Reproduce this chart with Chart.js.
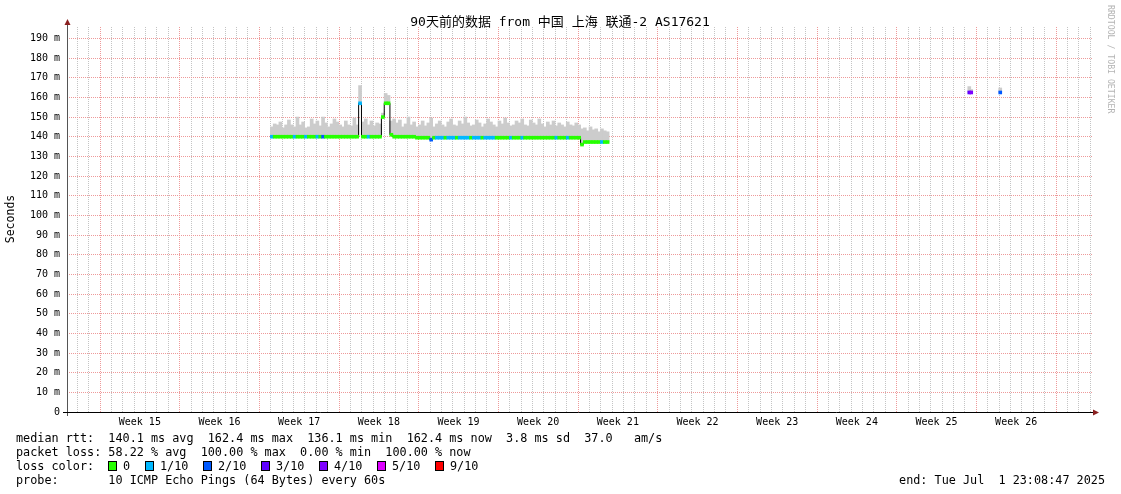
<!DOCTYPE html>
<html>
<head>
<meta charset="utf-8">
<script src="https://cdn.jsdelivr.net/npm/chart.js@4"></script>
<style>
  html, body { margin: 0; padding: 0; background: #fff; }
  #smoke-chart { display: block; }
</style>
</head>
<body>
<canvas id="smoke-chart" width="1121" height="494"></canvas>
<script>
// time axis is in days from the left edge of the plot, one sample every 6 hours
const startDay = 18.0;
const stepDay = 0.25;

const medianRtt = [
  140, 140, 140, 140, 140, 140, 140, 140, 140, 140,
  140, 140, 140, 140, 140, 140, 140, 140, 140, 140,
  140, 140, 140, 140, 140, 140, 140, 140, 140, 140,
  140, 157, 140, 140, 140, 140, 140, 140, 140, 150,
  157, 157, 141, 140, 140, 140, 140, 140, 140, 140,
  140, 139.5, 139.5, 139.5, 139.5, 139.5, 138.5, 139.5, 139.5, 139.5,
  139.5, 139.5, 139.5, 139.5, 139.5, 139.5, 139.5, 139.5, 139.5, 139.5,
  139.5, 139.5, 139.5, 139.5, 139.5, 139.5, 139.5, 139.5, 139.5, 139.5,
  139.5, 139.5, 139.5, 139.5, 139.5, 139.5, 139.5, 139.5, 139.5, 139.5,
  139.5, 139.5, 139.5, 139.5, 139.5, 139.5, 139.5, 139.5, 139.5, 139.5,
  139.5, 139.5, 139.5, 139.5, 139.5, 139.5, 139.5, 139.5, 139.5, 136,
  137.3, 137.3, 137.3, 137.3, 137.3, 137.3, 137.3, 137.3, 137.3
];

const smokeMax = [
  145, 146.5, 146, 147.5, 144.5, 146, 148.5, 146, 145, 150,
  146, 147.5, 144.5, 145, 149, 146.5, 148, 145.5, 150, 147,
  145, 146.5, 149, 147.5, 146, 145, 148, 146, 145.5, 149.5,
  146, 166, 147.5, 149, 146, 148, 145.5, 147, 146.5, 152,
  162, 161, 148, 149, 147, 148.5, 145, 146.5, 150, 146,
  147.5, 145, 146, 148, 145.5, 147, 149.5, 145, 146.5, 148,
  146, 145, 147.5, 149, 146, 145.5, 148, 146.5, 150, 147,
  145.5, 146, 148.5, 147, 145, 146.5, 149, 147.5, 146, 145,
  148, 146.5, 149.5, 147, 145.5, 146, 148, 147, 149, 146,
  145.5, 148.5, 147, 146, 149, 146.5, 145, 147.5, 146, 148,
  145.5, 147, 146, 145, 147.5, 146, 145.5, 147, 146, 144,
  144.5, 143, 145, 143.5, 144, 142.5, 144, 143, 142.5
];

// lost pings out of 10
const lossTenths = [
  1, 0, 0, 0, 0, 0, 0, 0, 1, 0,
  0, 0, 1, 0, 0, 0, 1, 0, 2, 0,
  0, 0, 0, 0, 0, 0, 0, 0, 0, 0,
  0, 1, 0, 0, 1, 0, 0, 0, 0, 0,
  0, 0, 0, 0, 0, 0, 0, 0, 0, 0,
  0, 0, 0, 0, 0, 0, 2, 0, 1, 1,
  1, 0, 1, 1, 1, 0, 1, 1, 1, 1,
  0, 1, 1, 1, 0, 1, 1, 1, 1, 0,
  0, 0, 0, 0, 1, 0, 0, 0, 1, 0,
  0, 0, 0, 0, 0, 0, 0, 0, 0, 0,
  1, 0, 0, 0, 1, 0, 0, 0, 0, 0,
  0, 0, 0, 0, 0, 0, 1, 0, 0
];

// the lone samples near the right edge
const spotDays = [79.28, 79.45, 82.0];
const spotMedian = [162.5, 162.5, 162.5];
const spotMax = [165.5, 164, 164.8];
const spotLoss = [3, 4, 2];

const weekLabels = ['Week 15', 'Week 16', 'Week 17', 'Week 18', 'Week 19', 'Week 20',
  'Week 21', 'Week 22', 'Week 23', 'Week 24', 'Week 25', 'Week 26'];
const firstWeekStart = 2.9;

const lossKeys = ['0', '1/10', '2/10', '3/10', '4/10', '5/10', '9/10'];
const lossKeyColors = ['#26ff00', '#00b8ff', '#0059ff', '#5e00ff', '#7e00ff', '#dd00ff', '#ff0000'];

function lossColor(n) {
  if (n <= 5) return lossKeyColors[n];
  return lossKeyColors[6];
}

const sampleDays = medianRtt.map((_, i) => startDay + i * stepDay);

const smokeData = sampleDays.map((d, i) => ({ x: d, y: [medianRtt[i], smokeMax[i]] }))
  .concat(spotDays.map((d, i) => ({ x: d, y: [spotMedian[i], spotMax[i]] })));
const bandData = sampleDays.map((d, i) => ({ x: d, y: [medianRtt[i] - 0.75, medianRtt[i] + 0.75] }))
  .concat(spotDays.map((d, i) => ({ x: d, y: [spotMedian[i] - 0.75, spotMedian[i] + 0.75] })));
const bandColors = lossTenths.map(lossColor).concat(spotLoss.map(lossColor));
const lineData = sampleDays.map((d, i) => ({ x: d, y: medianRtt[i] }));

// tick positions: a grid line every day, labels in the middle of each week
const xTicks = [];
for (let k = 0; k < 90; k++) xTicks.push(0.9 + k);
weekLabels.forEach((_, j) => xTicks.push(firstWeekStart + 3.5 + 7 * j));
xTicks.sort((a, b) => a - b);

const yTicks = [];
for (let v = 0; v <= 195; v += 5) yTicks.push(v);

function weekLabelAt(v) {
  const j = Math.round((v - firstWeekStart - 3.5) / 7);
  if (j >= 0 && j < weekLabels.length && Math.abs(v - (firstWeekStart + 3.5 + 7 * j)) < 0.01) return weekLabels[j];
  return null;
}

function isWeekStart(v) {
  const j = (v - firstWeekStart) / 7;
  return Math.abs(j - Math.round(j)) < 0.01;
}

const MONO = '"DejaVu Sans Mono", "Noto Sans CJK SC", monospace';
const RED_GRID = '#ee9a9a';
const GRAY_GRID = '#c4c4c4';

const rrdDecor = {
  id: 'rrdDecor',
  afterDraw(chart) {
    const c = chart.ctx;
    const a = chart.chartArea;
    c.save();

    // axes
    c.lineWidth = 1;
    c.strokeStyle = '#555';
    c.beginPath();
    c.moveTo(a.left + 0.5, a.bottom + 4);
    c.lineTo(a.left + 0.5, a.top - 4);
    c.stroke();
    c.strokeStyle = '#000';
    c.beginPath();
    c.moveTo(a.left - 4, a.bottom + 0.5);
    c.lineTo(a.right + 1, a.bottom + 0.5);
    c.stroke();

    c.fillStyle = '#8a2020';
    c.beginPath();
    c.moveTo(a.left - 2.5, a.top - 2);
    c.lineTo(a.left + 3.5, a.top - 2);
    c.lineTo(a.left + 0.5, a.top - 8);
    c.closePath();
    c.fill();
    c.beginPath();
    c.moveTo(a.right, a.bottom - 2.5);
    c.lineTo(a.right, a.bottom + 3.5);
    c.lineTo(a.right + 6, a.bottom + 0.5);
    c.closePath();
    c.fill();

    // title
    c.fillStyle = '#000';
    c.font = '13px ' + MONO;
    c.textAlign = 'center';
    c.textBaseline = 'middle';
    c.fillText('90天前的数据 from 中国 上海 联通-2 AS17621', 560, 22.5);

    // vertical axis title
    c.save();
    c.translate(11, 219);
    c.rotate(-Math.PI / 2);
    c.font = '11.5px ' + MONO;
    c.fillText('Seconds', 0, 0);
    c.restore();

    // watermark
    c.save();
    c.translate(1110, 5);
    c.rotate(Math.PI / 2);
    c.font = '8.2px ' + MONO;
    c.fillStyle = '#b4b4b4';
    c.textAlign = 'left';
    c.fillText('RRDTOOL / TOBI OETIKER', 0, 0);
    c.restore();

    // legend block
    c.font = '11.8px ' + MONO;
    c.textAlign = 'left';
    c.fillStyle = '#000';
    c.fillText('median rtt:  140.1 ms avg  162.4 ms max  136.1 ms min  162.4 ms now  3.8 ms sd  37.0   am/s', 16, 439);
    c.fillText('packet loss: 58.22 % avg  100.00 % max  0.00 % min  100.00 % now', 16, 453);
    c.fillText('loss color:', 16, 467);
    c.fillText('probe:       10 ICMP Echo Pings (64 Bytes) every 60s', 16, 481);

    const boxX = [108, 145, 203, 261, 319, 377, 435];
    lossKeys.forEach((k, i) => {
      c.fillStyle = lossKeyColors[i];
      c.fillRect(boxX[i], 461, 9, 10);
      c.strokeStyle = '#000';
      c.strokeRect(boxX[i] + 0.5, 461.5, 8, 9);
      c.fillStyle = '#000';
      c.fillText(k, boxX[i] + 15, 467);
    });

    c.textAlign = 'right';
    c.fillText('end: Tue Jul  1 23:08:47 2025', 1105, 481);
    c.restore();
  }
};

const ctx = document.getElementById('smoke-chart').getContext('2d');

const smokeChart = new Chart(ctx, {
  type: 'bar',
  data: {
    datasets: [
      {
        label: 'median',
        data: bandData,
        backgroundColor: bandColors,
        borderWidth: 0,
        barThickness: 3,
        grouped: false,
        order: 1
      },
      {
        type: 'line',
        label: 'median line',
        data: lineData,
        borderColor: '#000',
        borderWidth: 1,
        stepped: 'middle',
        pointRadius: 0,
        fill: false,
        order: 2
      },
      {
        label: 'smoke',
        data: smokeData,
        backgroundColor: '#cccccc',
        borderWidth: 0,
        barThickness: 3,
        grouped: false,
        order: 3
      }
    ]
  },
  options: {
    responsive: false,
    animation: false,
    layout: { padding: { left: 0, top: 27, right: 28, bottom: 0 } },
    plugins: {
      legend: { display: false },
      tooltip: { enabled: false }
    },
    scales: {
      x: {
        type: 'linear',
        min: 0,
        max: 90.15,
        offset: false,
        afterBuildTicks: (scale) => { scale.ticks = xTicks.map(v => ({ value: v })); },
        afterFit: (scale) => { scale.height = 82; },
        grid: {
          offset: false,
          drawTicks: false,
          lineWidth: 1,
          color: (c) => {
            const v = c.tick.value;
            if (weekLabelAt(v)) return 'rgba(0,0,0,0)';
            return isWeekStart(v) ? RED_GRID : GRAY_GRID;
          }
        },
        border: { display: false, dash: [1, 1] },
        ticks: {
          autoSkip: false,
          maxRotation: 0,
          padding: 4,
          color: '#000',
          font: { family: MONO, size: 10 },
          callback: (v) => weekLabelAt(v) || ''
        }
      },
      y: {
        min: 0,
        max: 195.8,
        afterBuildTicks: (scale) => { scale.ticks = yTicks.map(v => ({ value: v })); },
        afterFit: (scale) => { scale.width = 67; },
        grid: {
          drawTicks: false,
          lineWidth: 1,
          color: (c) => (c.tick.value % 10 === 0 ? RED_GRID : GRAY_GRID)
        },
        border: { display: false, dash: [1, 1] },
        ticks: {
          padding: 7,
          color: '#000',
          font: { family: MONO, size: 10 },
          callback: (v) => {
            if (v % 10 !== 0) return '';
            return v === 0 ? '0' : v + ' m';
          }
        }
      }
    }
  },
  plugins: [rrdDecor]
});
</script>
</body>
</html>
